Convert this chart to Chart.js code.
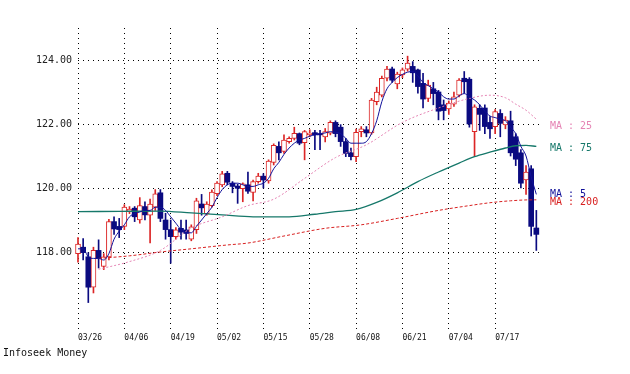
<!DOCTYPE html>
<html>
<head>
<meta charset="utf-8">
<script src="https://cdn.jsdelivr.net/npm/chart.js@4.4.0/dist/chart.umd.min.js"></script>
<style>
  html, body { margin: 0; padding: 0; background: #fff; }
  canvas { display: block; }
</style>
</head>
<body>
<canvas id="chart" width="630" height="374"></canvas>
<script>
// daily candles 03/26 - 07/27, one entry per trading day
const dateLabels = ['03/26', '04/06', '04/19', '05/02', '05/15', '05/28', '06/08', '06/21', '07/04', '07/17'];
const dateTickPos = [0, 9, 18, 27, 36, 45, 54, 63, 72, 81];
const priceTicks = [118, 120, 122, 124];

const open = [
  117.95, 118.15, 117.85, 116.90, 118.05, 117.55, 117.85, 118.95, 118.80, 118.80,
  119.27, 119.37, 119.00, 119.42, 119.15, 119.40, 119.85, 119.00, 118.70, 118.48,
  118.74, 118.69, 118.40, 118.70, 119.50, 119.20, 119.45, 119.82, 120.10, 120.46,
  120.15, 120.06, 119.98, 120.10, 119.86, 120.20, 120.37, 120.22, 120.80, 121.30,
  121.14, 121.45, 121.55, 121.70, 121.42, 121.66, 121.73, 121.70, 121.60, 121.71,
  122.05, 121.90, 121.45, 121.10, 120.98, 121.76, 121.82, 121.72, 122.70, 122.90,
  123.43, 123.72, 123.25, 123.53, 123.71, 123.80, 123.69, 123.27, 122.80, 123.10,
  123.00, 122.60, 122.47, 122.62, 122.90, 123.43, 123.40, 121.76, 122.49, 122.50,
  122.05, 121.92, 122.33, 121.97, 122.10, 121.60, 121.10, 120.25, 120.60, 118.75
];
const high = [
  118.45, 118.42, 117.98, 118.15, 118.38, 117.95, 119.02, 119.10, 119.05, 119.48,
  119.42, 119.42, 119.70, 119.57, 119.65, 119.95, 119.95, 119.21, 119.00, 118.76,
  119.00, 119.00, 118.85, 119.68, 119.80, 119.57, 119.94, 120.20, 120.52, 120.52,
  120.20, 120.12, 120.16, 120.50, 120.25, 120.46, 120.45, 120.88, 121.38, 121.44,
  121.66, 121.60, 121.90, 121.72, 121.80, 121.82, 121.80, 121.80, 121.86, 122.10,
  122.10, 121.98, 121.55, 121.25, 121.84, 121.92, 121.92, 122.80, 123.15, 123.50,
  123.80, 123.78, 123.62, 123.75, 124.12, 123.95, 123.72, 123.58, 123.37, 123.30,
  123.05, 122.75, 122.72, 123.00, 123.42, 123.64, 123.45, 122.60, 122.60, 122.60,
  122.23, 122.45, 122.45, 122.23, 122.40, 121.70, 121.20, 120.70, 120.70, 119.30
];
const low = [
  117.68, 117.75, 116.42, 116.72, 117.50, 117.45, 117.75, 118.55, 118.45, 118.70,
  119.20, 118.95, 118.90, 119.00, 118.28, 119.30, 118.95, 118.40, 117.65, 118.40,
  118.40, 118.40, 118.35, 118.58, 119.15, 119.15, 119.40, 119.76, 120.04, 120.10,
  119.85, 119.52, 119.57, 119.83, 119.60, 120.15, 120.00, 120.15, 120.72, 120.88,
  121.08, 121.40, 121.50, 121.35, 120.88, 121.60, 121.20, 121.20, 121.44, 121.66,
  121.60, 121.30, 120.98, 120.88, 120.82, 121.60, 121.60, 121.68, 122.60, 122.85,
  123.35, 123.30, 123.10, 123.45, 123.65, 123.30, 122.96, 122.50, 122.70, 122.60,
  122.13, 122.13, 122.30, 122.55, 122.85, 122.96, 121.90, 120.98, 121.80, 121.70,
  121.55, 121.70, 121.60, 121.85, 121.00, 120.70, 120.00, 119.80, 118.50, 118.05
];
const close = [
  118.25, 117.98, 116.90, 118.05, 117.80, 117.85, 118.95, 118.72, 118.70, 119.40,
  119.34, 119.10, 119.45, 119.16, 119.50, 119.82, 119.05, 118.70, 118.48, 118.69,
  118.62, 118.58, 118.79, 119.60, 119.38, 119.50, 119.87, 120.15, 120.44, 120.18,
  120.05, 119.99, 120.13, 119.90, 120.20, 120.37, 120.25, 120.84, 121.33, 121.10,
  121.50, 121.55, 121.71, 121.40, 121.76, 121.72, 121.66, 121.66, 121.76, 122.05,
  121.70, 121.45, 121.08, 120.98, 121.74, 121.85, 121.72, 122.75, 123.00, 123.43,
  123.72, 123.37, 123.56, 123.69, 123.90, 123.60, 123.17, 122.78, 123.22, 122.95,
  122.40, 122.42, 122.65, 122.85, 123.37, 123.32, 122.00, 122.54, 122.30, 121.92,
  121.85, 122.39, 122.02, 122.12, 121.10, 120.90, 120.15, 120.50, 118.80, 118.55
];

// moving averages
const ma5 = [
  118.10, 118.10, 117.85, 117.80, 117.80, 117.75, 117.95, 118.40, 118.65, 118.85,
  119.10, 119.20, 119.25, 119.30, 119.30, 119.40, 119.40, 119.30, 119.10, 118.90,
  118.70, 118.60, 118.60, 118.80, 119.00, 119.20, 119.40, 119.70, 119.95, 120.10,
  120.15, 120.15, 120.10, 120.05, 120.05, 120.10, 120.15, 120.30, 120.60, 120.80,
  121.05, 121.25, 121.40, 121.50, 121.55, 121.62, 121.66, 121.70, 121.72, 121.76,
  121.74, 121.70, 121.55, 121.40, 121.40, 121.40, 121.45, 121.70, 122.10, 122.70,
  123.10, 123.30, 123.45, 123.55, 123.62, 123.64, 123.50, 123.30, 123.20, 123.10,
  123.00, 122.85, 122.78, 122.78, 122.88, 122.95, 122.85, 122.75, 122.60, 122.40,
  122.25, 122.20, 122.15, 122.10, 121.90, 121.70, 121.30, 121.00, 120.35, 119.80
];
const ma25Day = [4, 10, 16, 22, 28, 33, 38, 44, 50, 56, 63, 70, 76, 80, 83, 85, 87, 89];
const ma25 = [117.46, 117.70, 118.05, 118.75, 119.10, 119.45, 119.65, 120.30, 120.95, 121.35,
  122.05, 122.50, 122.80, 122.90, 122.82, 122.62, 122.43, 122.15];
const ma75Day = [0, 8, 16, 22, 28, 34, 41, 46, 50, 54, 58, 62, 66, 70, 74, 77, 80, 83, 85, 87, 89];
const ma75 = [119.26, 119.27, 119.28, 119.22, 119.16, 119.10, 119.10, 119.18, 119.26, 119.33,
  119.55, 119.85, 120.20, 120.50, 120.78, 120.98, 121.12, 121.25, 121.32, 121.33, 121.30];
const ma200Day = [4, 10, 16, 22, 29, 33, 40, 48, 55, 62, 70, 76, 80, 84, 88, 89];
const ma200 = [117.80, 117.88, 118.00, 118.10, 118.22, 118.28, 118.50, 118.74, 118.85, 119.05,
  119.30, 119.45, 119.54, 119.60, 119.63, 119.63];

const maNames = ['MA : 25', 'MA : 75', 'MA : 5', 'MA : 200'];
const maLabelAt = [121.93, 121.25, 119.81, 119.56];

const UP = '#dc2626';
const DOWN = '#0a0a80';
const C_MA5 = '#10109a';
const C_MA25 = '#e584b4';
const C_MA75 = '#16786a';
const C_MA200 = '#d82020';
const maColors = [C_MA25, C_MA75, C_MA5, C_MA200];
const FONT = '"DejaVu Sans Mono", monospace';

const days = open.map((_, i) => i);
const isUp = days.map(i => close[i] >= open[i]);
const pts = (xs, ys) => xs.map((x, k) => ({ x: x, y: ys[k] }));

const labelPlugin = {
  id: 'labels',
  afterDraw(chart) {
    const { ctx, chartArea, scales } = chart;
    ctx.save();
    ctx.font = '10px ' + FONT;
    ctx.textBaseline = 'middle';
    ctx.textAlign = 'left';
    maNames.forEach((name, k) => {
      ctx.fillStyle = maColors[k];
      ctx.fillText(name, chartArea.right + 8, scales.y.getPixelForValue(maLabelAt[k]));
    });
    ctx.fillStyle = '#111';
    ctx.fillText('Infoseek Money', 3, 353);
    ctx.restore();
  }
};

new Chart(document.getElementById('chart'), {
  type: 'bar',
  data: {
    datasets: [
      {
        type: 'line', label: 'MA5', order: 0,
        data: pts(days, ma5),
        borderColor: C_MA5, borderWidth: 1, pointRadius: 0, fill: false,
        cubicInterpolationMode: 'monotone'
      },
      {
        type: 'line', label: 'MA25', order: 0,
        data: pts(ma25Day, ma25),
        borderColor: C_MA25, borderWidth: 1, borderDash: [2, 2], pointRadius: 0, fill: false,
        cubicInterpolationMode: 'monotone'
      },
      {
        type: 'line', label: 'MA75', order: 0,
        data: pts(ma75Day, ma75),
        borderColor: C_MA75, borderWidth: 1.3, pointRadius: 0, fill: false,
        cubicInterpolationMode: 'monotone'
      },
      {
        type: 'line', label: 'MA200', order: 0,
        data: pts(ma200Day, ma200),
        borderColor: C_MA200, borderWidth: 1, borderDash: [3, 2], pointRadius: 0, fill: false,
        cubicInterpolationMode: 'monotone'
      },
      {
        label: 'body', order: 1, grouped: false, clip: false,
        data: days.map(i => ({ x: i, y: [open[i], close[i]] })),
        barThickness: 5,
        backgroundColor: ctx => isUp[ctx.dataIndex] ? '#ffffff' : DOWN,
        borderColor: ctx => isUp[ctx.dataIndex] ? UP : DOWN,
        borderWidth: ctx => isUp[ctx.dataIndex] ? 1 : 0,
        borderSkipped: false
      },
      {
        label: 'wick', order: 2, grouped: false, clip: false,
        data: days.map(i => ({ x: i, y: [low[i], high[i]] })),
        barThickness: 1,
        backgroundColor: ctx => isUp[ctx.dataIndex] ? UP : DOWN,
        borderWidth: 0
      }
    ]
  },
  options: {
    responsive: false,
    animation: false,
    devicePixelRatio: 1,
    layout: { padding: { top: 28, right: 88, bottom: 0, left: 0 } },
    plugins: {
      legend: { display: false },
      tooltip: { enabled: false }
    },
    scales: {
      x: {
        type: 'linear',
        min: 0,
        max: 90.1,
        offset: false,
        afterBuildTicks: axis => { axis.ticks = dateTickPos.map(v => ({ value: v })); },
        afterFit: axis => { axis.height = 42; },
        ticks: {
          align: 'start',
          autoSkip: false,
          maxRotation: 0,
          padding: 1,
          color: '#111',
          font: { family: FONT, size: 8 },
          callback: (v, idx) => dateLabels[idx]
        },
        grid: { color: '#000', lineWidth: 1, drawTicks: false, offset: false },
        border: { display: false, dash: [1, 4] }
      },
      y: {
        min: 115.5,
        max: 125,
        afterBuildTicks: axis => { axis.ticks = priceTicks.map(v => ({ value: v })); },
        afterFit: axis => { axis.width = 78; },
        ticks: {
          padding: 6,
          color: '#222',
          font: { family: FONT, size: 10 },
          callback: v => v.toFixed(2)
        },
        grid: { color: '#000', lineWidth: 1, drawTicks: false, offset: false },
        border: { display: false, dash: [1, 4] }
      }
    }
  },
  plugins: [labelPlugin]
});
</script>
</body>
</html>
